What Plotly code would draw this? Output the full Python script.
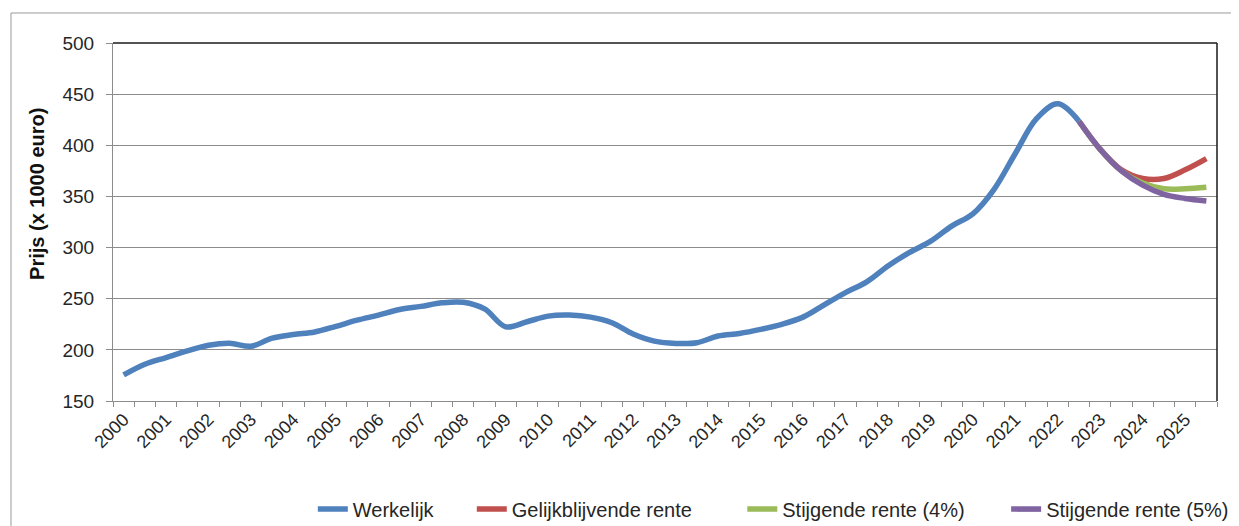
import plotly.graph_objects as go

# ---- data (half-yearly, 2000 H1 .. 2025 H2) ----
years = list(range(2000, 2026))
halves = [0, 1]
werkelijk = [175.5, 186, 192.5, 199, 204.5, 206.5, 203.5, 211.5, 215, 217.5,
             223, 229, 234, 239.5, 242.5, 246, 246.5, 240, 222.5, 227.5,
             233, 234, 232, 226.5, 215.5, 208.5, 206.3, 207, 213.5, 216,
             220, 225, 232, 244, 256, 266.5, 282, 295, 306, 321,
             333, 357, 392, 426, 440.5, 423.5]
gelijk = [423.5, 396, 376, 367.5, 367.5, 376, 387]
stijg4 = [423.5, 396, 375, 363, 357.5, 357.5, 359]
stijg5 = [423.5, 396, 375, 361, 352, 348, 345.5]
tick_labels = [str(y) for y in years]
names = ["Werkelijk", "Gelijkblijvende rente", "Stijgende rente (4%)", "Stijgende rente (5%)"]
colors = ["#4F81BD", "#C0504D", "#9BBB59", "#8064A2"]

# category centres on a numeric year axis
x_all = [y + 0.25 + 0.5 * h for y in years for h in halves]
x_w = x_all[:len(werkelijk)]
x_f = x_all[len(werkelijk) - 1:]

FONT = "Liberation Sans"
TXT = "#262626"
GRID = "#8c8c8c"

fig = go.Figure()
series = [(x_w, werkelijk), (x_f, gelijk), (x_f, stijg4), (x_f, stijg5)]
legend_ids = ["legend", "legend2", "legend3", "legend4"]
for (xs, ys), nm, c, lg in zip(series, names, colors, legend_ids):
    fig.add_trace(go.Scatter(x=xs, y=ys, mode="lines", name=nm,
                             line=dict(color=c, width=5.5, shape="spline", smoothing=1),
                             legend=lg, hoverinfo="x+y+name"))

leg_common = dict(orientation="h", yanchor="middle", y=-0.302, xanchor="left",
                  bgcolor="rgba(0,0,0,0)", borderwidth=0,
                  font=dict(family=FONT, size=20, color=TXT))
leg_x = [0.181, 0.325, 0.570, 0.809]

fig.update_layout(
    width=1231, height=518,
    margin=dict(l=105, r=22, t=35, b=125, autoexpand=False),
    paper_bgcolor="white", plot_bgcolor="white",
    font=dict(family=FONT, size=19, color=TXT),
    showlegend=True,
    legend=dict(x=leg_x[0], **leg_common),
    legend2=dict(x=leg_x[1], **leg_common),
    legend3=dict(x=leg_x[2], **leg_common),
    legend4=dict(x=leg_x[3], **leg_common),
    xaxis=dict(range=[2000, 2026], tickvals=[y + 0.25 for y in years], ticktext=tick_labels,
               tickangle=-45, ticks="", showgrid=False, zeroline=False,
               showline=True, linecolor=GRID, linewidth=1,
               tickfont=dict(family=FONT, size=18, color=TXT),
               minor=dict(tick0=2000, dtick=0.5, ticks="outside", ticklen=5,
                          tickcolor=GRID, tickwidth=1, showgrid=False)),
    yaxis=dict(range=[150, 500], dtick=50, tick0=150, ticks="outside", ticklen=6,
               tickcolor=GRID, showgrid=True, gridcolor=GRID, gridwidth=1,
               zeroline=False, showline=True, linecolor=GRID, linewidth=1,
               ticklabelstandoff=8,
               tickfont=dict(family=FONT, size=19, color=TXT)),
    annotations=[dict(text="<b>Prijs (x 1000 euro)</b>", textangle=-90,
                      xref="paper", yref="paper", x=-0.069, y=0.578,
                      xanchor="center", yanchor="middle", showarrow=False,
                      font=dict(family=FONT, size=20, color="#111111"))],
    shapes=[
        dict(type="line", xref="paper", yref="paper", x0=0, x1=1, y0=1, y1=1,
             line=dict(color="#1a1a1a", width=1.5)),
        dict(type="line", xref="paper", yref="paper", x0=1, x1=1, y0=0, y1=1,
             line=dict(color="#1a1a1a", width=1.5)),
        dict(type="rect", xref="paper", yref="paper", x0=-0.0924, x1=1.2, y0=-0.6, y1=1.0838,
             line=dict(color="#9a9a9a", width=1), layer="below"),
    ],
)

fig.write_html("out.html")
